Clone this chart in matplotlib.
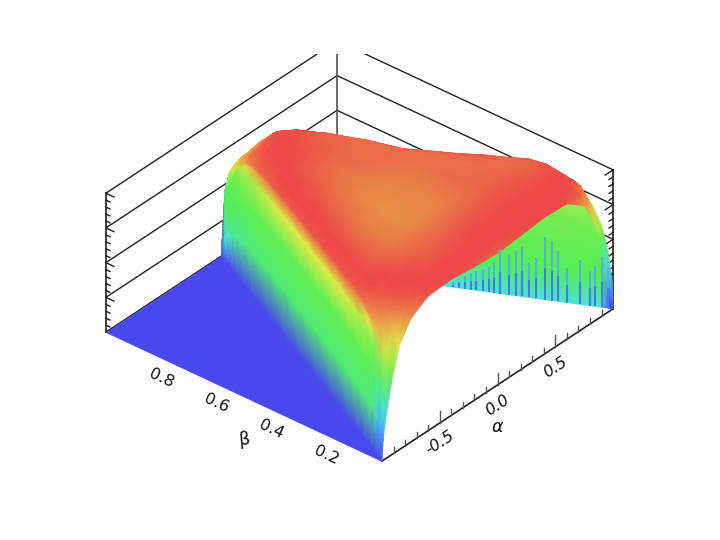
import numpy as np
import matplotlib
matplotlib.use('Agg')
import matplotlib.pyplot as plt
from matplotlib.collections import LineCollection, QuadMesh
from matplotlib.colors import LinearSegmentedColormap, Normalize
from matplotlib.transforms import Bbox
from mpl_toolkits.mplot3d import proj3d
from mpl_toolkits.mplot3d.art3d import Poly3DCollection

# position across the allowed region, -1 is the edge alpha = beta - 1, +1 is alpha = 1 - beta
t_grid = [-1, -.997, -.994, -.99, -.98, -.96, -.92, -.85, -.75, -.6, -.4, -.2, 0,
          .2, .4, .6, .75, .85, .92, .96, .98, .99, .994, .997, 1]
beta_grid = [0, .01, .03, .06, .1, .15, .2, .3, .4, .5, .6, .7, .8, .85, .9, .93, .96, .98, 1]

# surface height, one row per beta
z_table = [
    [0, .06, .10, .14, .22, .33, .52, .75, .89, .97, .98, .96, .95, .965, .985, .975, .88, .68, .52, .40, .27, .20, .14, .08, 0],
    [0, .12, .18, .24, .32, .42, .60, .78, .90, .97, .99, .975, .965, .975, .99, .985, .94, .82, .66, .52, .38, .27, .19, .10, 0],
    [0, .25, .36, .45, .52, .60, .72, .84, .93, .98, 1.0, .99, .98, .99, 1.0, 1.0, .99, .90, .73, .63, .50, .38, .27, .15, 0],
    [0, .30, .55, .72, .78, .82, .86, .91, .96, .995, 1.02, 1.01, 1.0, 1.01, 1.02, 1.02, 1.0, .98, .90, .80, .70, .55, .38, .20, 0],
    [0, .30, .58, .78, .86, .89, .92, .95, .99, 1.03, 1.06, 1.05, 1.03, 1.03, 1.03, 1.03, 1.02, 1.01, .96, .88, .75, .60, .42, .22, 0],
    [0, .32, .60, .82, .92, .94, .96, .98, 1.02, 1.07, 1.09, 1.09, 1.07, 1.06, 1.05, 1.05, 1.06, 1.06, 1.02, .97, .85, .66, .45, .23, 0],
    [0, .32, .62, .84, .94, .96, .97, 1.0, 1.06, 1.10, 1.13, 1.125, 1.11, 1.09, 1.07, 1.07, 1.08, 1.07, 1.04, .99, .88, .68, .46, .23, 0],
    [0, .33, .63, .85, .95, .965, .98, 1.02, 1.07, 1.11, 1.135, 1.13, 1.12, 1.10, 1.08, 1.09, 1.07, 1.05, 1.0, .95, .85, .66, .45, .23, 0],
    [0, .33, .63, .85, .95, .96, .975, 1.0, 1.05, 1.09, 1.12, 1.12, 1.11, 1.10, 1.09, 1.09, 1.06, 1.02, .98, .92, .80, .62, .42, .21, 0],
    [0, .33, .63, .85, .95, .96, .97, .99, 1.02, 1.06, 1.09, 1.10, 1.09, 1.085, 1.08, 1.08, 1.03, .99, .95, .88, .74, .57, .39, .20, 0],
    [0, .33, .63, .85, .95, .96, .965, .98, 1.0, 1.03, 1.06, 1.07, 1.07, 1.07, 1.08, 1.08, 1.04, 1.01, .96, .88, .72, .55, .38, .19, 0],
    [0, .33, .62, .84, .94, .95, .955, .965, .98, 1.0, 1.02, 1.03, 1.04, 1.05, 1.06, 1.065, 1.03, 1.01, 1.0, .90, .72, .55, .37, .19, 0],
    [0, .31, .60, .81, .91, .93, .94, .945, .95, .97, .985, .99, 1.0, 1.0, 1.005, 1.005, 1.0, 1.0, .99, .98, .78, .58, .38, .19, 0],
    [0, .30, .57, .78, .87, .89, .90, .91, .92, .93, .94, .945, .95, .96, .97, .97, .97, .965, .96, .90, .72, .54, .36, .18, 0],
    [0, .27, .50, .68, .77, .80, .81, .82, .83, .84, .84, .84, .84, .85, .85, .85, .86, .86, .86, .80, .65, .49, .33, .17, 0],
    [0, .24, .44, .60, .67, .71, .73, .74, .75, .76, .76, .76, .76, .76, .77, .77, .77, .76, .72, .66, .55, .42, .28, .14, 0],
    [0, .19, .36, .50, .55, .60, .62, .63, .64, .65, .65, .65, .65, .65, .65, .64, .63, .60, .56, .50, .42, .33, .23, .12, 0],
    [0, .14, .27, .38, .42, .46, .48, .50, .50, .51, .51, .51, .51, .51, .51, .50, .50, .48, .44, .38, .32, .25, .18, .09, 0],
    [0, 0, 0, 0, 0, 0, 0, 0, 0, 0, 0, 0, 0, 0, 0, 0, 0, 0, 0, 0, 0, 0, 0, 0, 0],
]

# colour against height
color_z = [0, .30, .525, .76, .885, .98, 1.03, 1.14]
color_hex = ['#4848ec', '#46e1f0', '#55ee55', '#ebeb46', '#eb9646', '#ee4848', '#ee4a48', '#e89146']
floor_color = '#4848ec'

# the steep walls read greener than their height says
wall_z = [0, .05, .2, .35, .65, .8, .93, 1.0]
wall_c = [0, .15, .38, .5, .55, .64, .90, 1.0]
wall_c_right = [.33, .42, .52, .54, .58, .68, .92, 1.0]

# blue streaks on the wall under the far edge
comb_beta = [.013, .028, .046, .059, .084, .117, .14, .155, .173, .198, .216, .232, .249, .267, .288,
             .303, .318, .333, .349, .364, .379, .394, .41]
comb_top = [.29, .36, .29, .25, .32, .25, .36, .43, .45, .29, .25, .36, .32, .29, .31,
            .22, .18, .16, .14, .12, .09, .065, .036]
comb_colors = ['#4a78e6', '#50b4d2']

# the flat part of the surface in front of the rising edge
floor_alpha = [-1, -1, 0]
floor_beta = [0, 1, 1]
floor_z = [0, 0, 0]

alpha_major = [-0.5, 0.0, 0.5]
alpha_minor = [-.9, -.8, -.7, -.6, -.4, -.3, -.2, -.1, .1, .2, .3, .4, .6, .7, .8, .9]
beta_major = [0.2, 0.4, 0.6, 0.8]
z_major = [.25, .5, .75, 1]
z_minor = [.05, .1, .15, .2, .3, .35, .4, .45, .55, .6, .65, .7, .8, .85, .9, .95]

line_color = '#202020'
text_color = '#111111'

fig = plt.figure(figsize=(7.2, 5.4), dpi=100)
ax = fig.add_axes([92.5 / 720, 22 / 540, 520 / 720, 520 / 540], projection='3d', proj_type='ortho')
ax.view_init(elev=33.7, azim=220.1)
ax.set_box_aspect((359, 361, 167))
ax.set_xlim(-1, 1, view_margin=0)
ax.set_ylim(0, 1, view_margin=0)
ax.set_zlim(0, 1, view_margin=0)
ax.set_axis_off()
ax.patch.set_alpha(0)

# lines above y=54 px are cut off in the reference
top_clip = Bbox([[0, 0], [720, 486]])


def frame_line(xs, ys, zs, width=1.0, color=line_color):
    ln, = ax.plot(xs, ys, zs, color=color, lw=width)
    ln.set_clip_box(top_clip)
    ln.set_clip_path(None)
    return ln


def project(a, b, z):
    px, py, _ = proj3d.proj_transform(np.ravel(a), np.ravel(b), np.ravel(z), ax.get_proj())
    return px, py


def label(a, b, z, s, **kw):
    # text goes through the 3d projection but is placed as plain 2d text
    px, py = project(a, b, z)
    ax.text2D(px[0], py[0], s, transform=ax.transData, ha='center', va='center',
              color=text_color, **kw)


# back walls
for z in [0] + z_major:
    frame_line([-1, 1], [1, 1], [z, z])
    frame_line([1, 1], [0, 1], [z, z])
frame_line([-1, -1], [1, 1], [0, 1], width=1.2)
frame_line([1, 1], [0, 0], [0, 1], width=1.2)
frame_line([1, 1], [1, 1], [0, 1], width=1.2, color='#555555')

# height ticks on both side edges
for z in z_major:
    frame_line([-1, -1], [1, 1 - .029], [z, z])
    frame_line([1, 1 - .069], [0, 0], [z, z])
for z in z_minor:
    frame_line([-1, -1], [1, 1 - .0145], [z, z])
    frame_line([1, 1 - .035], [0, 0], [z, z])

# alpha axis
frame_line([-1, 1], [0, 0], [0, 0], width=1.2)
for a in alpha_major:
    frame_line([a, a], [0, 0], [0, .086], color='#555555')
    label(a, 0, -.144, '%.1f' % a, rotation=33, style='italic', fontsize=11.5)
for a in alpha_minor:
    frame_line([a, a], [0, 0], [0, .043], color='#555555')

for b in beta_major:
    label(-1, b, -.144, '%.1f' % b, rotation=-25, fontsize=11.5)

label(0, 0, -.30, 'α', style='italic', fontsize=12.5)
label(-1, .5, -.306, 'β', fontsize=12.5, rotation=5)

ax.add_collection3d(Poly3DCollection([list(zip(floor_alpha, floor_beta, floor_z))],
                                     facecolors=floor_color, edgecolors=floor_color, linewidths=0.5))

# surface, drawn back to front so that nearer cells cover farther ones
t_arr, beta_arr = np.meshgrid(t_grid, beta_grid)
alpha_arr = t_arr * (1 - beta_arr)
z_arr = np.array(z_table)

c_arr = z_arr.copy()
left_wall = (t_arr <= -.98) & (beta_arr >= .06)
right_wall = (t_arr >= .98) & (beta_arr >= .03) & (beta_arr < 1)
c_arr[left_wall] = np.interp(z_arr[left_wall], wall_z, wall_c)
c_arr[right_wall] = np.interp(z_arr[right_wall], wall_z, wall_c_right)

alpha_arr = alpha_arr[::-1, ::-1]
beta_arr = beta_arr[::-1, ::-1]
z_arr = z_arr[::-1, ::-1]
c_arr = c_arr[::-1, ::-1]

px, py = project(alpha_arr, beta_arr, z_arr)
coords = np.column_stack([px, py]).reshape(z_arr.shape + (2,))

cmap = LinearSegmentedColormap.from_list('height', [(z / color_z[-1], c) for z, c in zip(color_z, color_hex)])
mesh = QuadMesh(coords, shading='gouraud', cmap=cmap, norm=Normalize(0, color_z[-1]),
                transform=ax.transData, zorder=5)
mesh.set_array(c_arr)
fig.add_artist(mesh)

# streaks on the far wall, lower half bluer than the upper half
comb_b = np.array(comb_beta)
comb_a = 1 - comb_b
comb_h = np.array(comb_top)
for frac0, frac1, col in [(0, .5, comb_colors[0]), (.5, 1, comb_colors[1])]:
    x0, y0 = project(comb_a, comb_b, comb_h * frac0)
    x1, y1 = project(comb_a, comb_b, comb_h * frac1)
    segs = [[(a, b), (c, d)] for a, b, c, d in zip(x0, y0, x1, y1)]
    fig.add_artist(LineCollection(segs, colors=col, linewidths=1.5, transform=ax.transData, zorder=6))

fig.savefig('out.png', dpi=100)
